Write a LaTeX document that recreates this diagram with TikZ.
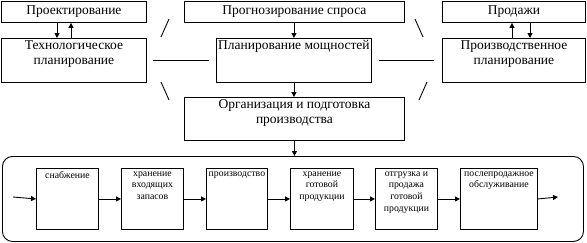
\documentclass[tikz,border=0pt]{standalone}
\usepackage{fontspec}
\setmainfont{Liberation Serif}
\usetikzlibrary{arrows.meta}
\begin{document}
\begin{tikzpicture}[x=1pt,y=-1pt,
  line width=0.9pt,
  frame/.style={draw, inner sep=0pt, anchor=north west},
  bigtxt/.style={inner sep=0pt, align=center, font=\fontsize{13.5}{15}\selectfont},
  smalltxt/.style={inner sep=0pt, align=center, font=\fontsize{9.8}{11.7}\selectfont},
  arr/.style={-{Triangle[length=5pt,width=5pt]}},
  deco/.style={line width=0.9pt}]
\useasboundingbox (0,0) rectangle (587,242);
% top row
\node[frame, minimum width=145pt, minimum height=21pt] (P1) at (1,1) {};
\node[frame, minimum width=220pt, minimum height=21pt] (P2) at (184,1) {};
\node[frame, minimum width=143pt, minimum height=21pt] (P3) at (442,1) {};
\node[bigtxt] (tP1) at (P1.center) {Проектирование};
\node[bigtxt] (tP2) at (P2.center) {Прогнозирование спроса};
\node[bigtxt] (tP3) at (P3.center) {Продажи};
% second row
\node[frame, minimum width=145pt, minimum height=44pt] (T1) at (1,38) {};
\node[frame, minimum width=155pt, minimum height=44pt] (T2) at (216,38) {};
\node[frame, minimum width=143pt, minimum height=44pt] (T3) at (442,38) {};
\node[bigtxt, anchor=north] (tT1) at ([yshift=-2pt]T1.north) {Технологическое\\планирование};
\node[bigtxt, anchor=north] (tT2) at ([yshift=-2pt]T2.north) {Планирование мощностей};
\node[bigtxt, anchor=north] (tT3) at ([yshift=-2pt]T3.north) {Производственное\\планирование};
% third row
\node[frame, minimum width=220pt, minimum height=43pt] (O) at (184,97) {};
\node[bigtxt, anchor=north] (tO) at ([yshift=-2pt]O.north) {Организация и подготовка\\производства};
% big rounded frame
\node[draw, rounded corners=10pt, inner sep=0pt, anchor=north west,
      minimum width=581pt, minimum height=85pt] (F) at (2,156) {};
% inner boxes
\node[frame, minimum width=62pt, minimum height=61pt] (B1) at (36,168) {};
\node[frame, minimum width=62pt, minimum height=61pt] (B2) at (121,168) {};
\node[frame, minimum width=61pt, minimum height=61pt] (B3) at (206,168) {};
\node[frame, minimum width=63pt, minimum height=61pt] (B4) at (290,168) {};
\node[frame, minimum width=62pt, minimum height=61pt] (B5) at (375,168) {};
\node[frame, minimum width=77pt, minimum height=61pt] (B6) at (460,168) {};
\node[smalltxt, anchor=north] (tB1) at ([yshift=-3pt]B1.north) {снабжение};
\node[smalltxt, anchor=north] (tB2) at ([yshift=-3pt]B2.north) {хранение\\входящих\\запасов};
\node[smalltxt, anchor=north] (tB3) at ([yshift=-3pt]B3.north) {производство};
\node[smalltxt, anchor=north] (tB4) at ([yshift=-3pt]B4.north) {хранение\\готовой\\продукции};
\node[smalltxt, anchor=north] (tB5) at ([yshift=-3pt]B5.north) {отгрузка и\\продажа\\готовой\\продукции};
\node[smalltxt, anchor=north] (tB6) at ([yshift=-3pt]B6.north) {послепродажное\\обслуживание};
\coordinate (in) at (13,197);
\coordinate (out) at (558,197);
% flow arrows
\draw[arr] (in) -- (B1.west);
\draw[arr] (B1) -- (B2);
\draw[arr] (B2) -- (B3);
\draw[arr] (B3) -- (B4);
\draw[arr] (B4) -- (B5);
\draw[arr] (B5) -- (B6);
\draw[arr] (B6.east) -- (out);
% vertical arrows
\draw[arr] ([xshift=56pt]P1.south west) -- ([xshift=56pt]T1.north west);
\draw[arr] ([xshift=70pt]T1.north west) -- ([xshift=70pt]P1.south west);
\draw[arr] ([xshift=70pt]T3.north west) -- ([xshift=70pt]P3.south west);
\draw[arr] ([xshift=88pt]P3.south west) -- ([xshift=88pt]T3.north west);
\draw[arr] (P2.south -| T2.north) -- (T2.north);
\draw[arr] (T2.south) -- (T2.south |- O.north);
\draw[arr] (O.south) -- (O.south |- F.north);
% decorative lines
\draw[deco] (153,60) -- (209,60);
\draw[deco] (379,60) -- (434,60);
\draw[deco] (161,37) -- (169,19);
\draw[deco] (161,82) -- (169,100);
\draw[deco] (415,19) -- (423,37);
\draw[deco] (427,82) -- (419,100);
\end{tikzpicture}
\end{document}
